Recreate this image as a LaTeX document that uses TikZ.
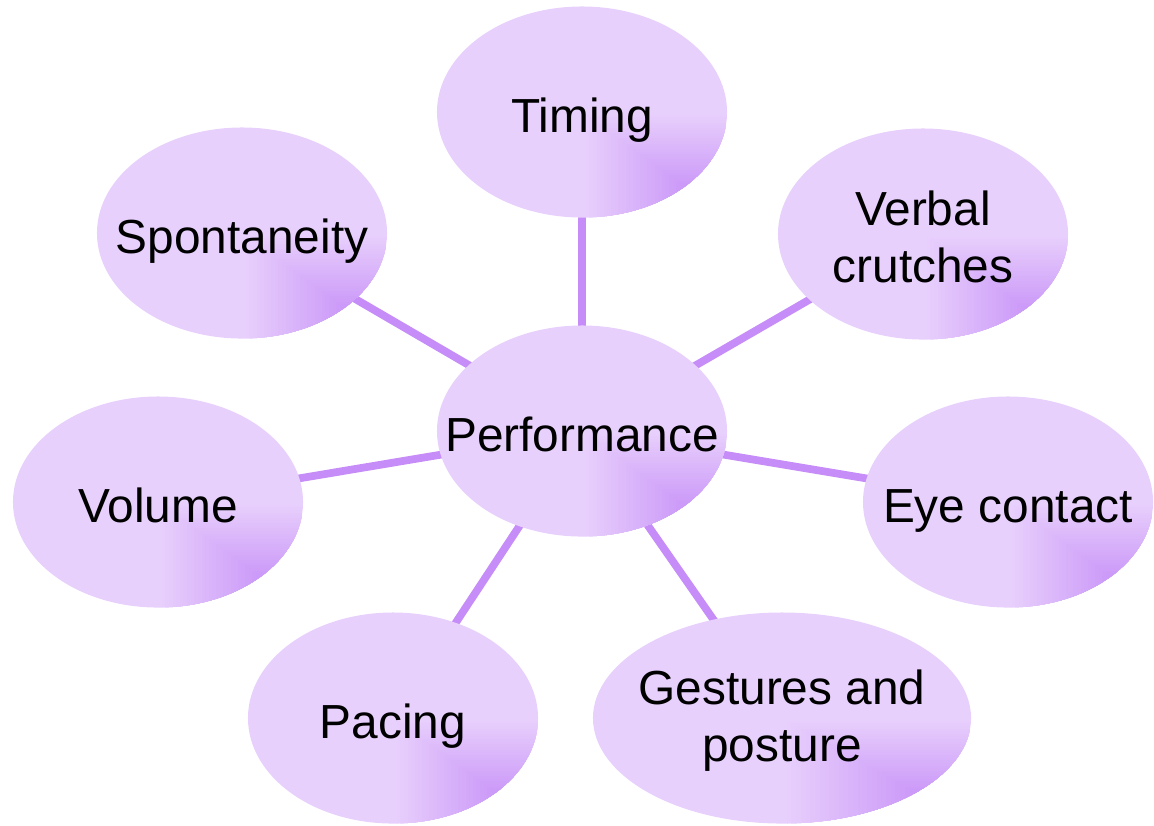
\documentclass[tikz,border=0pt]{standalone}
\usepackage{fontspec}
\setmainfont{Liberation Sans}
\usepackage{tikz}
\usetikzlibrary{calc, shapes.geometric, backgrounds}

\definecolor{lilac}{RGB}{232,208,252}
\definecolor{orchid}{RGB}{190,128,246}
\definecolor{spokecol}{RGB}{198,140,247}

\tikzset{
  bubble/.style={ellipse, fill=lilac, inner sep=0pt,
    minimum width=7.25cm, minimum height=5.275cm,
    path picture={
      \foreach \i in {1,...,40}{
        \pgfmathtruncatemacro\pct{100*\i/40}
        \fill[orchid!\pct!lilac]
          ($(path picture bounding box.center)!\i/40!(path picture bounding box.south east)$)
          rectangle (path picture bounding box.south east);
      }
    }},
  bubtext/.style={align=center, inner sep=0pt,
    font=\fontsize{34}{40.5}\selectfont},
  oneline/.style={bubtext, text height=1cm, text depth=0pt},
  twoline/.style={bubtext, yshift=-0.07cm},
  spoke/.style={line width=5.5pt, draw=spokecol}
}

\begin{document}
\begin{tikzpicture}[x=0.025cm, y=-0.025cm]
  \useasboundingbox (0,0) rectangle (1154,825);

  \node[bubble, label={[oneline]center:Performance}] (perf) at (582,431) {};
  \node[bubble, label={[oneline]center:Timing}] (timing) at (582,112) {};
  \node[bubble, label={[oneline]center:Spontaneity}] (spont) at (242,233) {};
  \node[bubble, label={[twoline]center:Verbal\\crutches}] (verbal) at (923,234) {};
  \node[bubble, label={[oneline]center:Volume}] (volume) at (158,502) {};
  \node[bubble, label={[oneline]center:Eye contact}] (eye) at (1008,502) {};
  \node[bubble, label={[oneline]center:Pacing}] (pacing) at (393,718) {};
  \node[bubble, minimum width=9.45cm,
    label={[twoline]center:Gestures and\\posture}] (gest) at (782,718) {};

  \begin{scope}[on background layer]
    \foreach \n in {timing, spont, verbal, volume, eye, pacing, gest}
      \draw[spoke] (perf.center) -- (\n.center);
  \end{scope}
\end{tikzpicture}
\end{document}
